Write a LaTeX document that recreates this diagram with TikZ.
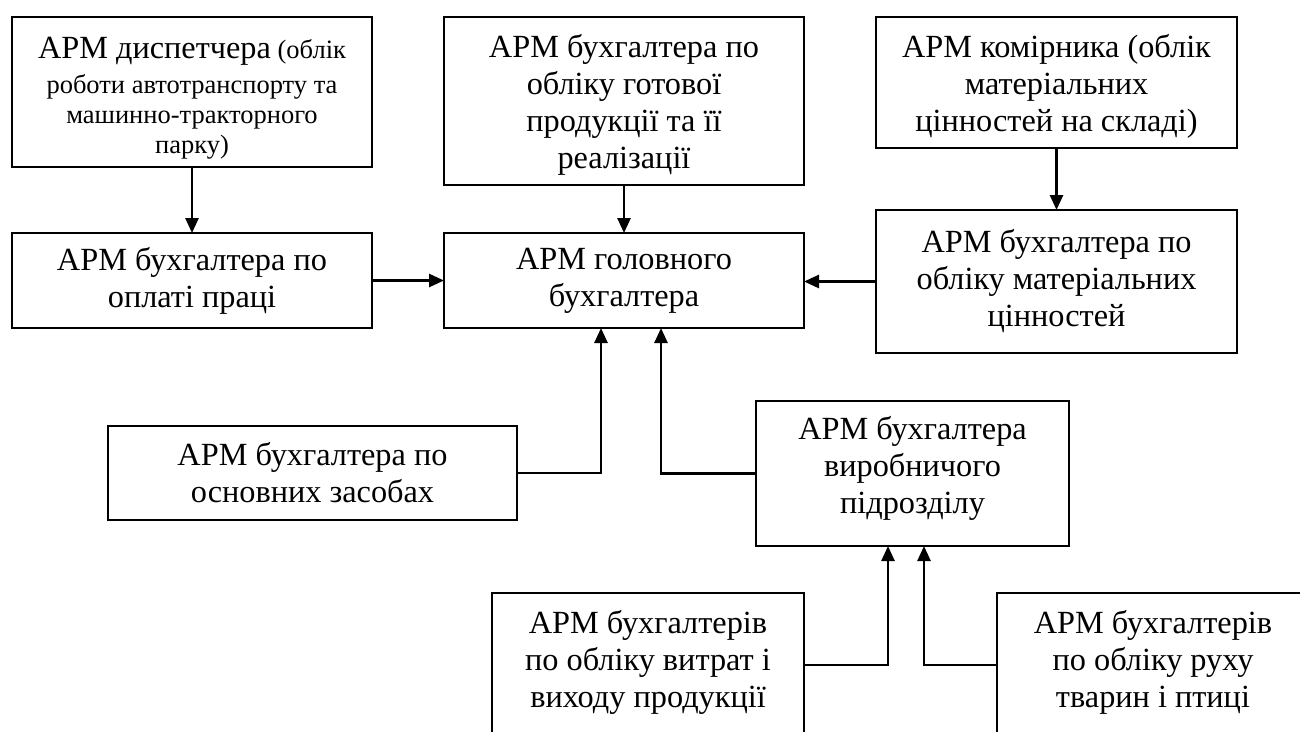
\documentclass[tikz,border=0pt]{standalone}
\usepackage{fontspec}
\setmainfont{Liberation Serif}
\usetikzlibrary{arrows.meta,calc}
\newcommand{\topgap}[1]{\rule{0pt}{#1}}
\newcommand{\botgap}[1]{\rule[-#1]{0pt}{0pt}}
\begin{document}
\begin{tikzpicture}[x=1pt,y=-1pt,
  box/.style={draw, line width=1.6pt, inner sep=0pt, outer sep=0pt, align=center,
    font=\fontsize{32.3}{37}\selectfont},
  txt/.style={inner sep=0pt, outer sep=0pt, align=center, font=\fontsize{32.3}{37}\selectfont},
  smallbox/.style={box, font=\fontsize{26.5}{30}\selectfont},
  conn/.style={line width=2.6pt, -{Triangle[length=15pt,width=13pt]}}
  ]
\useasboundingbox (0,0) rectangle (1300,731);
\clip (0,0) rectangle (1300,731);

\node[smallbox, minimum width=360pt, minimum height=150pt] (disp) at (192,92)
  {\topgap{34pt}{\fontsize{32.3}{37}\selectfont АРМ диспетчера} (облік\\[5pt]роботи автотранспорту та\\машинно-тракторного\\парку)};
\node[box, minimum width=360pt, minimum height=95pt] (pay) at (192,280.5)
  {АРМ бухгалтера по\\оплаті праці};
\node[box, minimum width=360pt, minimum height=168pt] (fin) at (624,101)
  {\topgap{30pt}АРМ бухгалтера по\\обліку готової\\продукції та її\\реалізації};
\node[box, minimum width=360pt, minimum height=95pt] (main) at (624,280.5)
  {АРМ головного\\бухгалтера};
\node[box, minimum width=361pt, minimum height=131pt] (store) at (1056.5,82.5)
  {\topgap{30pt}АРМ комірника (облік\\матеріальних\\цінностей на складі)};
\node[box, minimum width=361pt, minimum height=143pt] (mat) at (1056.5,281.5)
  {АРМ бухгалтера по\\обліку матеріальних\\цінностей};
\node[box, minimum width=409pt, minimum height=94pt] (fixed) at (312.5,473)
  {АРМ бухгалтера по\\основних засобах};
\node[box, minimum width=313pt, minimum height=145pt] (prod) at (912.5,473.5)
  {АРМ бухгалтера\\виробничого\\підрозділу\botgap{17pt}};
\node[box, minimum width=312pt, minimum height=170pt, anchor=north west] (cost) at (492,593) {};
\node[txt, anchor=north] (costtxt) at ($(cost.north)+(0,17)$)
  {АРМ бухгалтерів\\по обліку витрат і\\виходу продукції};
\node[box, minimum width=312pt, minimum height=170pt, anchor=north west] (birds) at (997,593) {};
\node[txt, anchor=north] (birdstxt) at ($(birds.north)+(0,17)$)
  {АРМ бухгалтерів\\по обліку руху\\тварин і птиці};

\draw[conn] (disp) -- (pay);
\draw[conn] (fin) -- (main);
\draw[conn] (store) -- (mat);
\draw[conn] (pay) -- (main);
\draw[conn] (mat.west) -- (mat.west -| main.east);
\draw[conn] (fixed.east) -| ($(main.south)+(-23,0)$);
\draw[conn] (prod.west) -| ($(main.south)+(37,0)$);
\draw[conn] ($(cost.north east)+(0,72)$) -| ($(prod.south)+(-24.5,0)$);
\draw[conn] ($(birds.north west)+(0,72)$) -| ($(prod.south)+(11.5,0)$);
\end{tikzpicture}
\end{document}
